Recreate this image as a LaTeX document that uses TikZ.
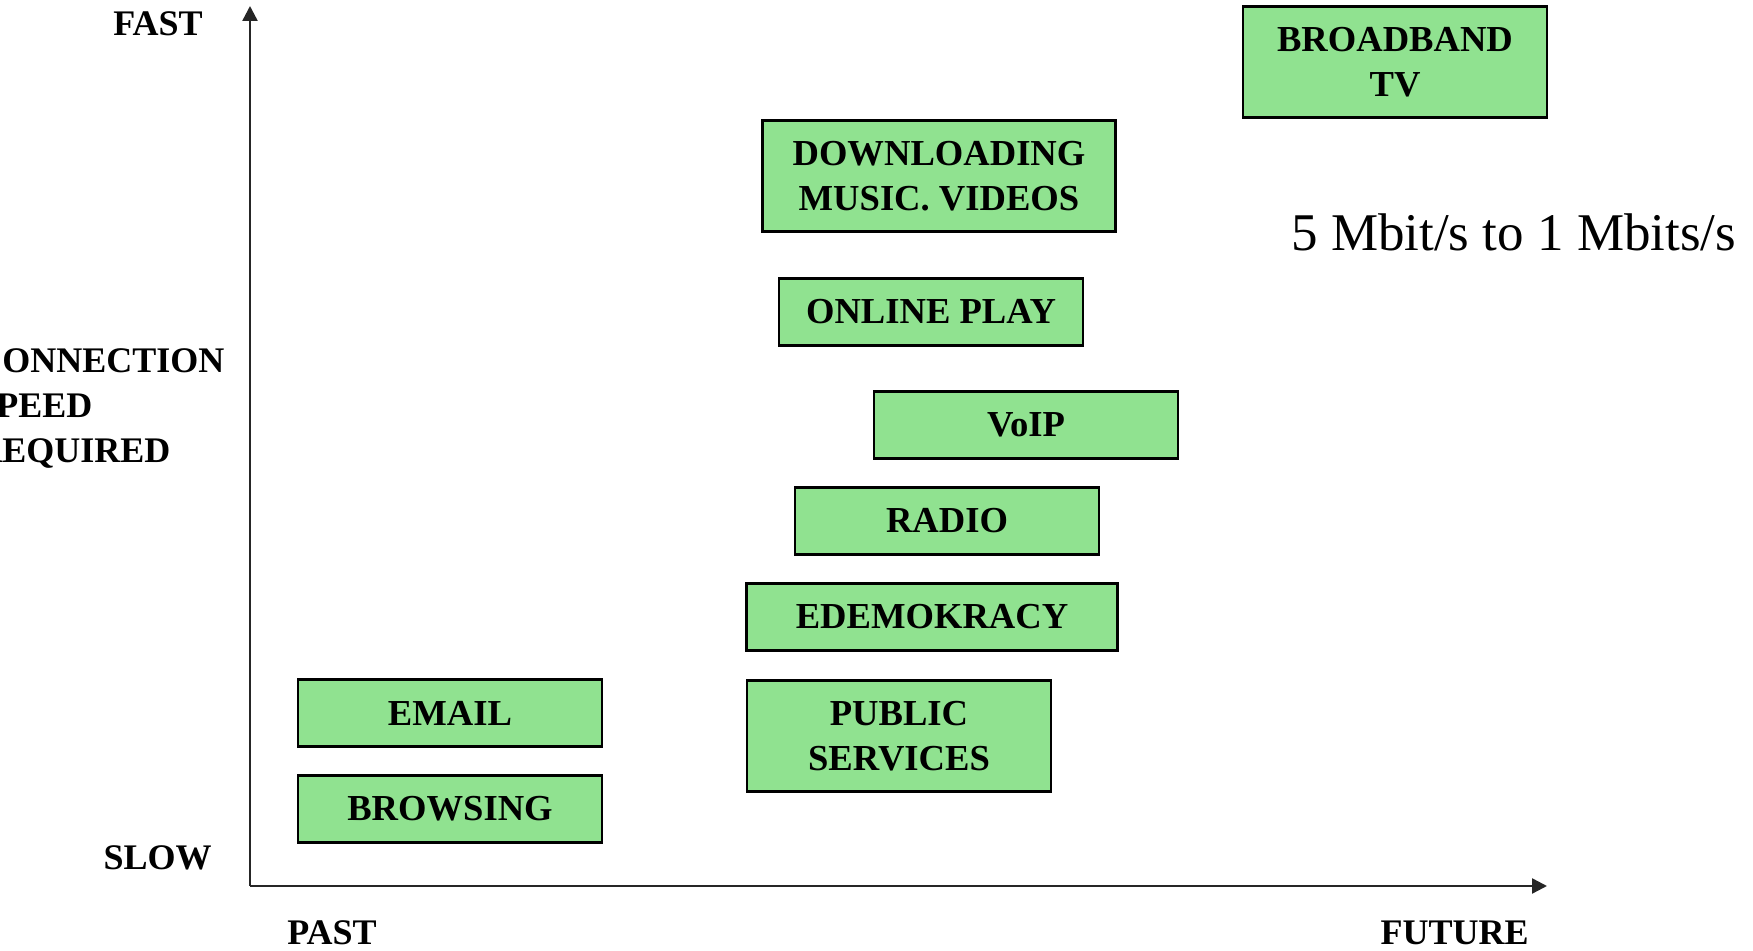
\documentclass[tikz,border=0pt]{standalone}
\usepackage{fontspec}
\setmainfont{Liberation Serif}
\usetikzlibrary{arrows.meta}
\definecolor{appgreen}{RGB}{144,226,144}
\begin{document}
\begin{tikzpicture}[x=0.5pt, y=-0.5pt,
    appbox/.style={shape=rectangle, draw=black, fill=appgreen, line width=1.4pt,
      inner sep=0pt, minimum width=152pt, minimum height=33.5pt, align=center,
      font=\bfseries\fontsize{18.3}{22.5}\selectfont},
    tall/.style={minimum height=55.5pt},
    axlabel/.style={inner sep=0pt, font=\bfseries\fontsize{18}{22.5}\selectfont},
    axis/.style={line width=1.2pt, black!85, -{Triangle[length=7.5pt, width=7.5pt]}}]
    \clip (0, 0) rectangle (1753, 951);

    % axes
    \coordinate (origin) at (250, 886);
    \coordinate (top) at (250, 6);
    \coordinate (right) at (1547, 886);
    \draw [axis] (origin) -- (top);
    \draw [axis] (origin) -- (right);

    \node[axlabel, anchor=base east] (fast) at (203, 36) {FAST};
    \node[axlabel, anchor=base east] (slow) at (212, 870) {SLOW};
    \node[axlabel, anchor=base west] (past) at (287, 945) {PAST};
    \node[axlabel, anchor=base east] (future) at (1529, 945) {FUTURE};
    \node[axlabel, anchor=north west, align=left] (speed) at (-24, 348) {CONNECTION\\SPEED\\REQUIRED};

    % services
    \node[appbox, tall] (tv) at (1395, 62) {BROADBAND\\TV};
    \node[appbox, tall, minimum width=176.5pt] (download) at (939, 176) {DOWNLOADING\\MUSIC. VIDEOS};
    \node[appbox] (online) at (931, 312) {ONLINE PLAY};
    \node[appbox] (voip) at (1026, 425) {VoIP};
    \node[appbox] (radio) at (947, 521) {RADIO};
    \node[appbox, minimum width=185.5pt] (edemo) at (932, 617) {EDEMOKRACY};
    \node[appbox] (email) at (450, 713) {EMAIL};
    \node[appbox, tall] (public) at (899, 736) {PUBLIC\\SERVICES};
    \node[appbox] (browsing) at (450, 809) {BROWSING};

    \node[inner sep=0pt, anchor=base west, font=\fontsize{26.5}{30}\selectfont] (rate) at (1291, 251) {5 Mbit/s to 1 Mbits/s};
  \end{tikzpicture}
\end{document}
